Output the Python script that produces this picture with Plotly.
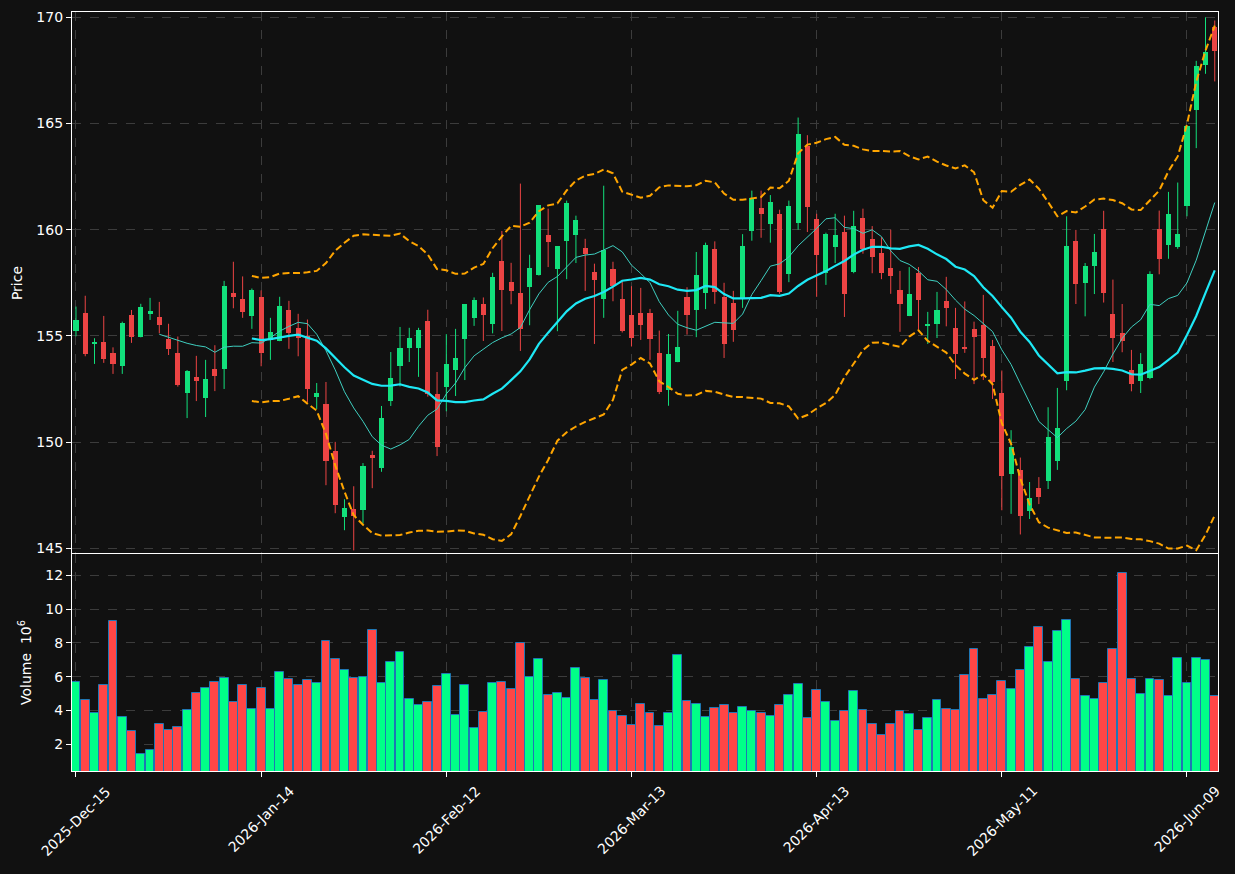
import plotly.graph_objects as go
import pandas as pd

# ---- data ----
opens = [155.22,156.10,154.61,154.73,154.21,153.57,155.96,154.97,156.02,155.91,
         154.87,154.21,152.29,153.08,152.06,153.46,153.43,157.00,156.76,155.93,
         156.81,154.81,154.78,156.24,155.39,155.00,152.11,151.81,149.59,146.45,
         146.84,146.78,149.40,148.76,151.92,153.57,154.42,154.42,155.68,152.28,
         152.58,153.38,154.84,155.83,156.48,155.55,158.51,157.55,157.03,157.28,
         157.89,159.73,158.13,159.45,159.73,159.15,157.99,156.73,158.13,156.76,
         155.96,156.10,156.10,154.21,152.44,153.76,156.81,156.21,157.01,159.07,
         156.81,156.57,156.79,159.94,161.01,160.27,160.75,157.91,160.31,163.93,
         160.49,157.95,159.18,159.87,158.03,160.53,159.54,158.88,158.22,157.18,
         155.93,157.94,155.49,155.55,156.62,155.39,154.50,155.34,155.53,154.54,
         152.33,148.48,148.69,146.74,147.84,148.15,149.09,152.88,159.49,157.48,
         158.29,160.01,156.05,155.15,153.40,152.86,153.03,160.01,159.26,159.20,
         161.10,165.63,167.76,169.56]
highs = [156.38,156.89,154.89,155.94,154.46,155.67,156.22,156.51,156.79,156.60,
         155.57,154.97,153.39,154.06,153.87,154.56,157.59,158.49,157.80,157.23,
         157.14,155.85,156.84,156.65,156.04,155.77,152.78,152.83,150.01,147.31,
         147.92,149.01,149.59,151.70,154.24,155.42,155.38,155.38,156.23,153.30,
         155.08,155.33,156.48,156.81,156.81,157.97,159.94,158.44,162.17,158.82,
         161.15,160.99,159.21,161.37,160.66,159.57,158.40,162.07,158.49,157.56,
         157.34,157.26,156.27,155.25,155.09,156.18,157.29,158.95,159.39,159.45,
         157.50,157.12,159.79,161.84,161.84,161.63,160.94,161.37,165.28,164.45,
         160.75,159.86,160.75,160.66,160.89,160.99,160.17,159.65,160.00,158.06,
         158.24,158.24,156.13,157.07,157.78,156.32,156.62,155.67,156.93,154.81,
         153.37,150.56,149.27,148.12,148.35,151.64,152.55,160.63,159.99,158.43,
         159.80,160.89,157.65,156.50,154.34,154.19,158.04,160.90,161.78,162.22,
         164.87,167.95,170.00,169.85]
lows = [154.98,154.04,153.68,153.73,153.21,153.21,154.67,154.93,155.75,155.12,
        154.10,152.61,151.13,151.93,151.18,152.40,152.50,156.30,155.85,155.33,
        153.57,153.87,154.75,154.39,154.04,151.87,151.56,147.97,146.65,145.85,
        144.90,146.16,147.83,148.60,151.70,152.62,153.77,153.07,152.14,149.34,
        151.45,152.17,152.92,155.47,154.76,155.12,155.23,156.49,154.29,155.50,
        157.84,158.24,155.22,157.67,158.43,157.12,154.62,155.85,156.63,155.16,
        154.50,154.81,153.87,152.26,151.71,153.76,155.06,154.94,156.26,156.51,
        153.96,154.72,156.32,159.48,159.62,159.39,156.98,157.53,160.00,159.89,
        156.84,157.40,158.43,155.89,157.95,158.87,157.95,157.67,156.98,155.19,
        155.93,155.31,154.62,154.90,155.45,152.97,154.20,152.73,152.92,152.03,
        146.79,146.62,145.65,146.38,147.08,147.79,148.69,152.44,156.50,155.92,
        156.97,156.57,153.77,154.23,152.39,152.31,152.96,157.90,158.63,159.10,
        160.63,163.84,167.34,166.98]
closes = [155.77,154.13,154.73,153.90,153.66,155.63,154.94,156.34,156.15,155.50,
          154.37,152.67,153.36,152.86,152.99,153.10,157.33,156.82,156.12,157.18,
          154.18,155.20,156.43,155.12,154.89,152.48,152.33,149.13,147.06,146.89,
          146.54,148.87,149.23,151.15,153.03,154.45,154.92,155.30,152.26,149.79,
          153.69,153.98,156.48,156.71,155.97,157.75,157.15,157.11,155.31,158.18,
          161.15,159.42,159.21,161.24,160.44,158.85,157.62,159.04,157.34,155.25,
          154.89,155.50,154.84,152.34,154.15,154.50,155.97,157.89,159.26,157.06,
          154.61,155.27,159.21,161.51,160.74,161.32,157.06,161.13,164.50,161.07,
          158.80,159.78,159.73,156.96,160.16,159.10,158.71,157.94,157.81,156.49,
          156.99,156.68,155.58,156.24,156.30,154.13,154.42,154.94,153.95,152.81,
          148.38,149.78,146.54,147.37,147.40,150.25,150.67,159.21,157.43,158.27,
          158.97,157.00,154.89,154.75,152.72,153.69,157.93,158.61,160.72,159.78,
          164.87,167.69,168.36,168.42]
volumes = [5.69,4.62,3.84,5.51,9.32,3.61,2.77,1.40,1.64,3.19,
           2.83,3.01,4.02,5.03,5.33,5.69,5.93,4.50,5.51,4.08,
           5.33,4.08,6.28,5.87,5.51,5.81,5.63,8.13,7.06,6.40,
           5.93,5.99,8.78,5.63,6.88,7.47,4.68,4.32,4.50,5.45,
           6.17,3.72,5.51,2.95,3.90,5.63,5.69,5.27,8.01,5.99,
           7.06,4.92,5.03,4.74,6.52,5.93,4.62,5.81,3.96,3.67,
           3.13,4.38,3.84,3.07,3.84,7.30,4.56,4.38,3.61,4.14,
           4.32,3.84,4.20,3.96,3.84,3.67,4.32,4.92,5.57,3.55,
           5.21,4.50,3.37,3.96,5.15,4.02,3.19,2.53,3.19,3.96,
           3.78,2.83,3.55,4.62,4.08,4.02,6.11,7.65,4.68,4.92,
           5.75,5.27,6.40,7.77,8.96,6.88,8.72,9.38,5.87,4.86,
           4.68,5.63,7.65,12.12,5.87,4.97,5.87,5.81,4.86,7.12,
           5.63,7.12,7.00,4.86]
tick_positions = [0, 20, 40, 60, 80, 100, 120]
tick_labels = ["2025-Dec-15", "2026-Jan-14", "2026-Feb-12", "2026-Mar-13",
               "2026-Apr-13", "2026-May-11", "2026-Jun-09"]

# ---- derived indicators ----
close_s = pd.Series(closes)
ma10 = close_s.rolling(10).mean()
ma20 = close_s.rolling(20).mean()
sd20 = close_s.rolling(20).std(ddof=0)
bb_up = ma20 + 2 * sd20
bb_lo = ma20 - 2 * sd20

n = len(closes)
idx = list(range(n))

UP_C = "#12e07c"
DN_C = "#ec4444"
UP_V = "#00ff88"
DN_V = "#ff4646"
BG = "#111111"
GRID = "#3c3c3c"

fig = go.Figure()

# wicks
for up, col in ((True, UP_C), (False, DN_C)):
    xs, ys = [], []
    for i in idx:
        if (closes[i] >= opens[i]) == up:
            xs += [i, i, None]
            ys += [lows[i], highs[i], None]
    fig.add_trace(go.Scatter(x=xs, y=ys, mode="lines", line=dict(color=col, width=1),
                             xaxis="x", yaxis="y", showlegend=False, hoverinfo="skip"))

# bodies
for up, col in ((True, UP_C), (False, DN_C)):
    xs, base, hgt = [], [], []
    for i in idx:
        if (closes[i] >= opens[i]) == up:
            xs.append(i)
            lo = min(opens[i], closes[i])
            base.append(lo)
            hgt.append(max(abs(closes[i] - opens[i]), 0.03))
    fig.add_trace(go.Bar(x=xs, y=hgt, base=base, width=0.55, marker=dict(color=col, line=dict(width=0)),
                         xaxis="x", yaxis="y", showlegend=False, hoverinfo="skip"))

# moving averages & bands
fig.add_trace(go.Scatter(x=idx, y=ma10, mode="lines", line=dict(color="#3fcfc0", width=1),
                         xaxis="x", yaxis="y", showlegend=False))
fig.add_trace(go.Scatter(x=idx, y=ma20, mode="lines", line=dict(color="#1ee8f5", width=2.2),
                         xaxis="x", yaxis="y", showlegend=False))
for band in (bb_up, bb_lo):
    fig.add_trace(go.Scatter(x=idx, y=band, mode="lines",
                             line=dict(color="#ffa500", width=2, dash="7px,3.5px"),
                             xaxis="x", yaxis="y", showlegend=False))

# volume
vcols = [UP_V if closes[i] >= opens[i] else DN_V for i in idx]
fig.add_trace(go.Bar(x=idx, y=volumes, width=0.96,
                     marker=dict(color=vcols, line=dict(color="#1f77b4", width=1)),
                     xaxis="x2", yaxis="y2", showlegend=False))

vol_frac = (771 - 554) / 759.0
base_axis = dict(showline=True, linecolor="white", linewidth=1.2,
                 gridcolor=GRID, griddash="dash", gridwidth=1, zeroline=False,
                 tickfont=dict(color="white", size=14, family="DejaVu Sans"),
                 tickcolor="white", ticklen=5, automargin=False)

# rotated date labels centred under their ticks (matplotlib style)
annotations = []
for pos, lab in zip(tick_positions, tick_labels):
    annotations.append(dict(x=pos, y=0, xref="x2", yref="paper", text=lab,
                            textangle=-45, showarrow=False, xanchor="center", yanchor="top",
                            yshift=-9, font=dict(color="white", size=14, family="DejaVu Sans")))

fig.update_layout(
    width=1235, height=874,
    paper_bgcolor=BG, plot_bgcolor=BG,
    margin=dict(l=72, r=17, t=12, b=103, autoexpand=False),
    bargap=0, barmode="overlay",
    font=dict(family="DejaVu Sans", color="white", size=14),
    annotations=annotations,
    # price panel x-axis: only the top frame line (the volume panel draws the shared divider)
    xaxis=dict(domain=[0, 1], anchor="y", range=[-0.43, 123.35], side="top", mirror=False,
               ticks="", tickvals=tick_positions, showticklabels=False, **base_axis),
    yaxis=dict(domain=[vol_frac, 1], anchor="x", range=[144.73, 170.25], mirror=True,
               ticks="outside", tickvals=[145, 150, 155, 160, 165, 170],
               title=dict(text="Price", font=dict(size=14, color="white"), standoff=10),
               **base_axis),
    xaxis2=dict(domain=[0, 1], anchor="y2", matches="x", range=[-0.43, 123.35], mirror=True,
                ticks="outside", tickvals=tick_positions, showticklabels=False, **base_axis),
    yaxis2=dict(domain=[0, vol_frac], anchor="x2", range=[0.41, 13.27], mirror=True,
                ticks="outside", tickvals=[2, 4, 6, 8, 10, 12],
                title=dict(text="Volume  10<sup>6</sup>", font=dict(size=14, color="white"), standoff=10),
                **base_axis),
)

fig.write_html("out.html")
